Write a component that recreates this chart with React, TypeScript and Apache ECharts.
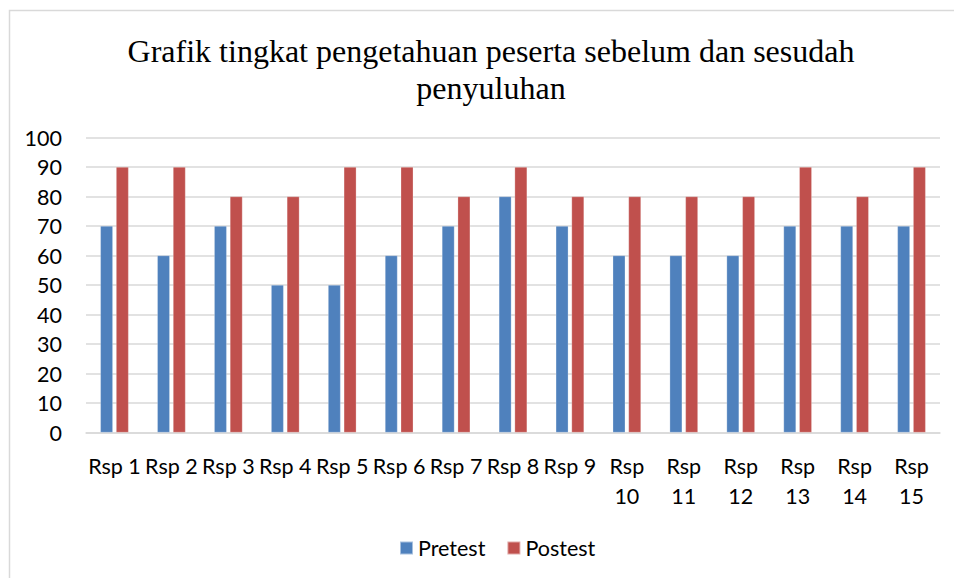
import React, { useEffect, useRef } from "react";
import * as echarts from "echarts";

const categories = ["Rsp 1", "Rsp 2", "Rsp 3", "Rsp 4", "Rsp 5", "Rsp 6", "Rsp 7", "Rsp 8", "Rsp 9", "Rsp 10", "Rsp 11", "Rsp 12", "Rsp 13", "Rsp 14", "Rsp 15"];
const pretest = [70, 60, 70, 50, 50, 60, 70, 80, 70, 60, 60, 60, 70, 70, 70];
const postest = [90, 90, 80, 80, 90, 90, 80, 90, 80, 80, 80, 80, 90, 80, 90];
const titleText = "Grafik tingkat pengetahuan peserta sebelum dan sesudah\npenyuluhan";

export default function App() {
  const ref = useRef<HTMLDivElement>(null);
  useEffect(() => {
    document.body.style.margin = "0";
    const chart = echarts.init(ref.current!, null, { renderer: "svg" });
    const axisFont = "Lato, 'Open Sans', sans-serif";
    chart.setOption({
      animation: false,
      backgroundColor: "#ffffff",
      graphic: [
        {
          type: "rect",
          shape: { x: 9.5, y: 10.5, width: 1000, height: 600 },
          style: { fill: "none", stroke: "#d9d9d9", lineWidth: 1.5 },
          silent: true,
        },
        {
          type: "text",
          x: 491,
          y: 32,
          style: {
            text: titleText,
            font: "32px 'Liberation Serif', 'Times New Roman', serif",
            lineHeight: 37,
            fill: "#000000",
            align: "center",
            verticalAlign: "top",
          },
        },
      ],
      grid: { left: 86, right: 14, top: 137.5, bottom: 145.5, containLabel: false },
      legend: {
        data: ["Pretest", "Postest"],
        left: 394,
        top: 532,
        icon: "rect",
        itemWidth: 13,
        itemHeight: 13,
        itemGap: 21,
        textStyle: { fontFamily: axisFont, fontSize: 21.5, color: "#000", lineHeight: 22 },
      },
      xAxis: {
        type: "category",
        data: categories,
        axisTick: { show: false },
        axisLine: { lineStyle: { color: "#d9d9d9", width: 1.5 } },
        axisLabel: {
          interval: 0,
          margin: 18,
          fontFamily: axisFont,
          fontSize: 21.5,
          lineHeight: 30,
          color: "#000",
          formatter: (v: string, i: number) => (i >= 9 ? v.replace(" ", "\n") : v),
        },
      },
      yAxis: {
        type: "value",
        min: 0,
        max: 100,
        interval: 10,
        axisLine: { show: false },
        axisTick: { show: false },
        splitLine: { lineStyle: { color: "#d9d9d9", width: 1.5 } },
        axisLabel: { margin: 24, fontFamily: axisFont, fontSize: 21.5, color: "#000" },
      },
      series: [
        {
          name: "Pretest",
          type: "bar",
          data: pretest,
          barWidth: 12.5,
          barGap: "26%",
          itemStyle: { color: "#4f81bd", borderColor: "rgba(255,255,255,0.5)", borderWidth: 0.5 },
        },
        {
          name: "Postest",
          type: "bar",
          data: postest,
          barWidth: 12.5,
          barGap: "26%",
          itemStyle: { color: "#c0504d", borderColor: "rgba(255,255,255,0.5)", borderWidth: 0.5 },
        },
      ],
    });
    return () => chart.dispose();
  }, []);
  return <div ref={ref} style={{ width: 954, height: 578 }} />;
}
